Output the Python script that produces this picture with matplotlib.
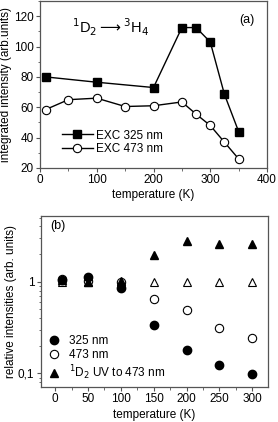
import matplotlib
matplotlib.use("Agg")
import matplotlib.pyplot as plt
from matplotlib.ticker import FixedLocator, FuncFormatter, LogLocator, NullFormatter, MultipleLocator

plt.rcParams['font.family'] = ['Liberation Sans', 'DejaVu Sans']
plt.rcParams['font.size'] = 8.5

# Panel (a)
temp_325 = [10, 100, 200, 250, 275, 300, 325, 350]
int_325 = [80, 76.5, 73, 112.5, 112.5, 103, 68.5, 44]
temp_473 = [10, 50, 100, 150, 200, 250, 275, 300, 325, 350]
int_473 = [58.5, 65, 66, 60.5, 61, 63.5, 55.5, 48, 37, 26]

# Panel (b)
temp_b = [10, 50, 100, 150, 200, 250, 300]
rel_325 = [1.03, 1.12, 0.86, 0.34, 0.18, 0.124, 0.098]
rel_473 = [1.06, 1.02, 0.98, 0.65, 0.49, 0.316, 0.245]
rel_uv = [1.05, 0.98, 1.02, 1.97, 2.75, 2.6, 2.55]
rel_ref = [1, 1, 1, 1, 1, 1, 1]

fig = plt.figure(figsize=(2.78, 4.22), dpi=100)
W, H = 278, 422
ax1 = fig.add_axes([40/W, 1 - 168/H, 227/W, 167/H])
ax2 = fig.add_axes([40.7/W, 1 - 387/H, 227.3/W, 171/H])

spine_col = '#555555'
for ax in (ax1, ax2):
    for s in ax.spines.values():
        s.set_color(spine_col)
        s.set_linewidth(0.9)
    ax.tick_params(direction='out', length=3, width=0.8, color=spine_col, pad=1.5)
    ax.tick_params(which='minor', direction='out', length=1.8, width=0.6, color=spine_col)

ax1.plot(temp_325, int_325, '-s', color='black', lw=1, ms=5.3, mfc='black', mec='black',
         label='EXC 325 nm')
ax1.plot(temp_473, int_473, '-o', color='black', lw=1, ms=6, mfc='white', mec='black',
         mew=0.8, label='EXC 473 nm')
ax1.set_xlim(0, 400)
ax1.set_ylim(20, 130)
ax1.set_xticks([0, 100, 200, 300, 400])
ax1.set_yticks([20, 40, 60, 80, 100, 120])
ax1.xaxis.set_minor_locator(MultipleLocator(50))
ax1.yaxis.set_minor_locator(MultipleLocator(10))
ax1.set_xlabel('temperature (K)', labelpad=2)
ax1.set_ylabel('integrated intensity (arb.units)', labelpad=1)
ax1.text(0.945, 0.885, '(a)', transform=ax1.transAxes, ha='right', va='center', fontsize=9)
ax1.text(0.14, 0.84, r'$^{1}$D$_{2}$$\longrightarrow$$^{3}$H$_{4}$', transform=ax1.transAxes,
         ha='left', va='center', fontsize=10.5)
ax1.legend(loc='lower left', bbox_to_anchor=(0.06, 0.03), frameon=False, handlelength=2.6,
           handletextpad=0.3, labelspacing=0.1, borderpad=0.2, fontsize=8.5)

ax2.set_yscale('log')
ax2.plot(temp_b, rel_ref, '^', color='black', ms=6, mfc='white', mec='black', mew=0.8,
         linestyle='none')
ax2.plot(temp_b, rel_473, 'o', ms=6, mfc='white', mec='black', mew=0.8, linestyle='none',
         label='473 nm')
ax2.plot(temp_b, rel_325, 'o', ms=6, mfc='black', mec='black', linestyle='none',
         label='325 nm')
ax2.plot(temp_b[3:], rel_uv[3:], '^', ms=6, mfc='black', mec='black', linestyle='none')
ax2.plot(temp_b[:3], rel_uv[:3], '^', ms=6, mfc='black', mec='black', linestyle='none',
         label=r'$^{1}$D$_{2}$ UV to 473 nm')
ax2.set_xlim(-22, 324)
ax2.set_ylim(0.071, 5.2)
ax2.set_xticks([0, 50, 100, 150, 200, 250, 300])
ax2.xaxis.set_minor_locator(MultipleLocator(25))
ax2.yaxis.set_major_locator(FixedLocator([0.1, 1]))
ax2.yaxis.set_major_formatter(FuncFormatter(lambda v, p: '1' if v == 1 else '0,1'))
ax2.yaxis.set_minor_locator(LogLocator(base=10, subs=range(2, 10)))
ax2.yaxis.set_minor_formatter(NullFormatter())
ax2.set_xlabel('temperature (K)', labelpad=3)
ax2.set_ylabel('relative intensities (arb. units)', labelpad=1)
ax2.text(0.04, 0.94, '(b)', transform=ax2.transAxes, ha='left', va='center', fontsize=9)
h, l = ax2.get_legend_handles_labels()
order = [l.index('325 nm'), l.index('473 nm'), l.index(r'$^{1}$D$_{2}$ UV to 473 nm')]
ax2.legend([h[i] for i in order], [l[i] for i in order], loc='lower left',
           bbox_to_anchor=(-0.01, -0.02), frameon=False, handlelength=1.2, handletextpad=0.7,
           labelspacing=0.2, borderpad=0.2, fontsize=8.5)

fig.savefig('out.png', dpi=100)
